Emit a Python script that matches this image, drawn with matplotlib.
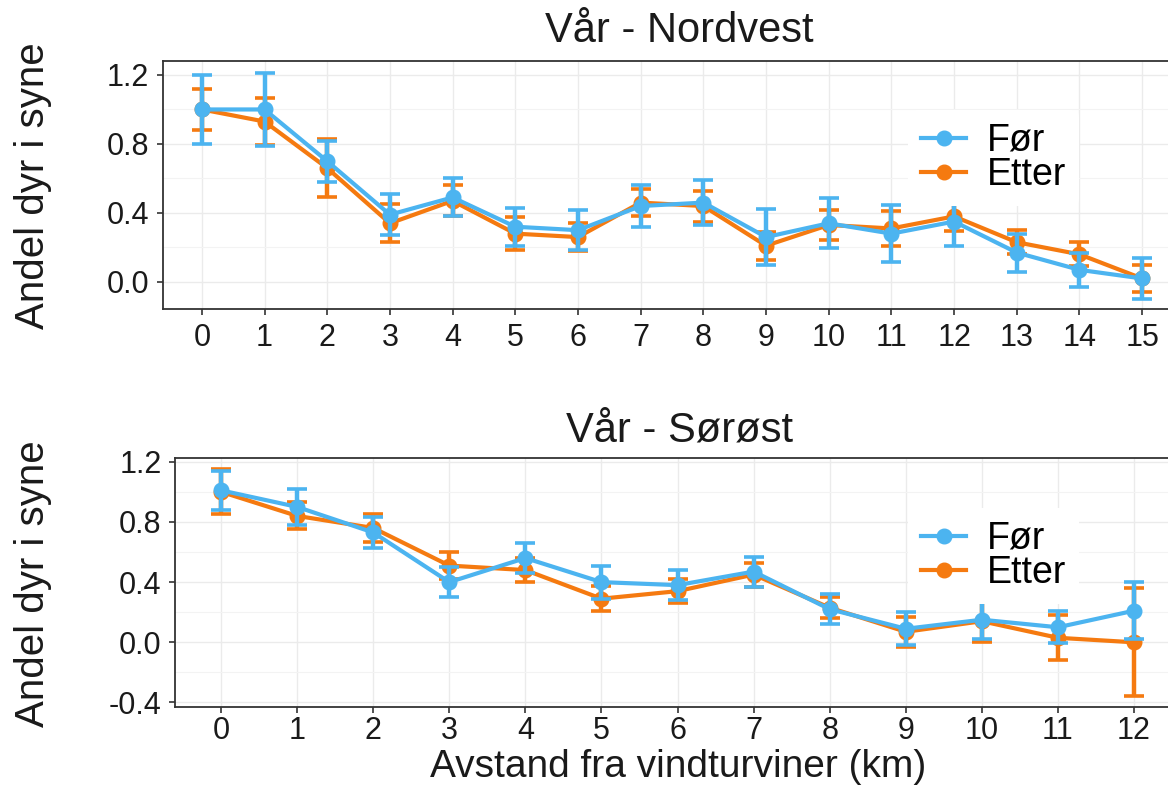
import matplotlib
matplotlib.use("Agg")
import matplotlib.pyplot as plt
from matplotlib.lines import Line2D

# ---------------- data ----------------
x_nv = list(range(16))
for_nv = [1.00, 1.00, 0.70, 0.39, 0.49, 0.32, 0.30, 0.44, 0.46, 0.26, 0.34, 0.28, 0.35, 0.17, 0.07, 0.02]
for_nv_err = [0.20, 0.21, 0.12, 0.12, 0.11, 0.11, 0.115, 0.12, 0.13, 0.16, 0.145, 0.165, 0.14, 0.11, 0.10, 0.12]
etter_nv = [1.00, 0.93, 0.66, 0.34, 0.47, 0.28, 0.26, 0.46, 0.44, 0.21, 0.33, 0.31, 0.38, 0.23, 0.16, 0.02]
etter_nv_err = [0.12, 0.135, 0.17, 0.11, 0.09, 0.095, 0.08, 0.08, 0.09, 0.08, 0.085, 0.10, 0.085, 0.07, 0.07, 0.08]

x_so = list(range(13))
for_so = [1.01, 0.90, 0.73, 0.40, 0.56, 0.40, 0.38, 0.47, 0.22, 0.09, 0.15, 0.10, 0.21]
for_so_err = [0.13, 0.12, 0.10, 0.10, 0.10, 0.11, 0.10, 0.10, 0.10, 0.11, 0.125, 0.105, 0.19]
etter_so = [1.00, 0.84, 0.76, 0.51, 0.48, 0.29, 0.34, 0.45, 0.23, 0.07, 0.14, 0.03, 0.00]
etter_so_err = [0.15, 0.09, 0.09, 0.09, 0.08, 0.085, 0.08, 0.08, 0.07, 0.10, 0.14, 0.15, 0.36]

series_labels = ["Før", "Etter"]
titles = ["Vår - Nordvest", "Vår - Sørøst"]
ylabel = "Andel dyr i syne"
xlabel = "Avstand fra vindturviner (km)"
yticks_nv = [0.0, 0.4, 0.8, 1.2]
yticks_so = [-0.4, 0.0, 0.4, 0.8, 1.2]

# ---------------- style ----------------
C_BLUE = "#4CB4F0"
C_ORANGE = "#F57A10"
FONT = "Liberation Sans"
plt.rcParams["font.family"] = [FONT, "DejaVu Sans"]

W, H = 1168, 785
fig = plt.figure(figsize=(W / 100, H / 100), dpi=100)


def px_axes(l, r, t, b):
    return fig.add_axes([l / W, 1 - b / H, (r - l) / W, (b - t) / H])


def style(ax, xs, yt, ylim, xpad):
    pad = 0.62 if len(xs) == 16 else 0.6
    ax.set_xlim(-pad, xs[-1] + pad)
    ax.set_ylim(*ylim)
    ax.set_xticks(xs)
    ax.set_xticklabels([str(v) for v in xs])
    ax.set_yticks(yt)
    ax.set_yticklabels([f"{v:.1f}" for v in yt])
    minors = [v + 0.2 for v in yt[:-1]]
    ax.set_yticks(minors, minor=True)
    ax.tick_params(axis="both", which="major", labelsize=22, length=4, width=1.2,
                   color="#333333", labelcolor="#1a1a1a", pad=6)
    ax.tick_params(axis="x", which="major", pad=xpad)
    ax.tick_params(axis="y", which="minor", length=0)
    ax.grid(True, which="major", color="#EBEBEB", linewidth=1.0)
    ax.grid(True, which="minor", axis="y", color="#F3F3F3", linewidth=0.8)
    ax.set_axisbelow(True)
    for s in ax.spines.values():
        s.set_color("#333333")
        s.set_linewidth(1.3)


def draw(ax, xs, fv, fe, ev, ee):
    kw = dict(linewidth=3.0, marker="o", markersize=10.5, elinewidth=3.2,
              capsize=7, capthick=2.6)
    ax.errorbar(xs, ev, yerr=ee, color=C_ORANGE, zorder=3, **kw)
    ax.errorbar(xs, fv, yerr=fe, color=C_BLUE, zorder=4, **kw)


def legend(ax, y_px):
    handles = [Line2D([], [], color=C_BLUE, marker="o", markersize=10.5, linewidth=3.0),
               Line2D([], [], color=C_ORANGE, marker="o", markersize=10.5, linewidth=3.0)]
    leg = ax.legend(handles, series_labels, loc="center left",
                    bbox_to_anchor=(908 / W, 1 - y_px / H), bbox_transform=fig.transFigure,
                    fontsize=27, frameon=True, facecolor="white", edgecolor="none",
                    framealpha=1.0, handlelength=1.2, handletextpad=0.55,
                    labelspacing=-0.05, borderpad=0.35, borderaxespad=0)
    leg.get_frame().set_linewidth(0)


ax1 = px_axes(163, 1181, 61, 309)
draw(ax1, x_nv, for_nv, for_nv_err, etter_nv, etter_nv_err)
style(ax1, x_nv, yticks_nv, (-0.157, 1.281), 6)
legend(ax1, 158)

ax2 = px_axes(175.4, 1179.7, 457.7, 706.7)
draw(ax2, x_so, for_so, for_so_err, etter_so, etter_so_err)
style(ax2, x_so, yticks_so, (-0.428, 1.227), 3)
legend(ax2, 556)

fig.text(679 / W, 1 - 31 / H, titles[0], ha="center", va="center", fontsize=30, color="#1a1a1a")
fig.text(679 / W, 1 - 430 / H, titles[1], ha="center", va="center", fontsize=30, color="#1a1a1a")
fig.text(33 / W, 1 - 186 / H, ylabel, rotation=90, ha="center", va="center", fontsize=29, color="#1a1a1a")
fig.text(33 / W, 1 - 584 / H, ylabel, rotation=90, ha="center", va="center", fontsize=29, color="#1a1a1a")
fig.text(678 / W, 1 - 777 / H, xlabel, ha="center", va="baseline", fontsize=28, color="#1a1a1a")

fig.savefig("out.png", dpi=100)
